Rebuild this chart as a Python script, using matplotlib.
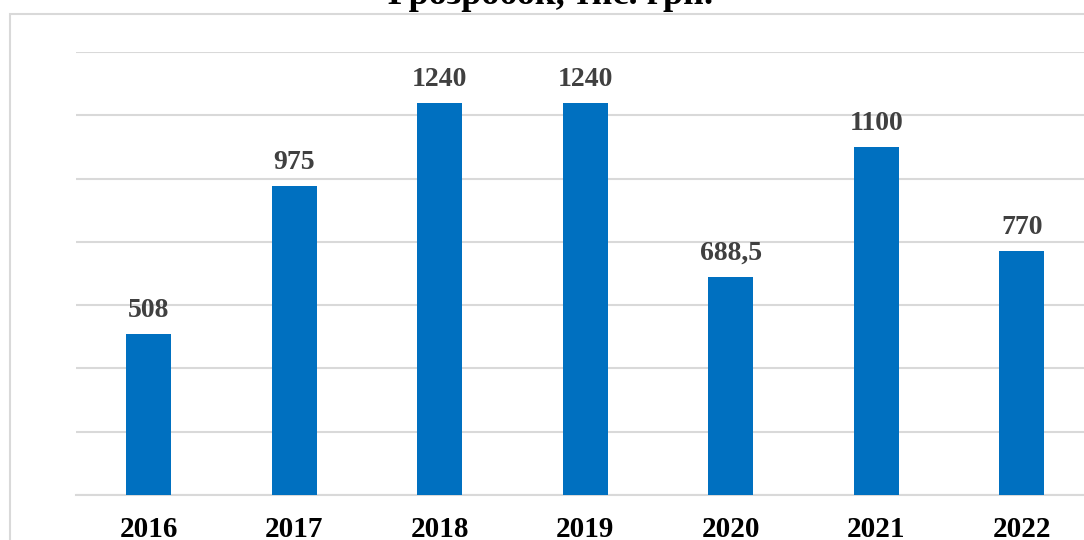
"""Bar chart: розробок, тис. грн., 2016-2022."""
import matplotlib
matplotlib.use("Agg")
import matplotlib.pyplot as plt
from matplotlib.patches import Rectangle

# Data
years = ["2016", "2017", "2018", "2019", "2020", "2021", "2022"]
values = [508, 975, 1240, 1240, 688.5, 1100, 770]
value_labels = ["508", "975", "1240", "1240", "688,5", "1100", "770"]
title = "Грозробок, тис. грн."

BAR_BLUE = "#0070C0"
GRID_GRAY = "#D9D9D9"
LABEL_GRAY = "#404040"

plt.rcParams["font.family"] = ["Liberation Serif", "DejaVu Serif"]

W, H = 1084, 540
fig = plt.figure(figsize=(W / 100, H / 100), dpi=100)
fig.patch.set_facecolor("white")

# chart-area frame (partly cropped off right/bottom)
fig.patches.append(Rectangle((10 / W, -0.1), 1.2, 1 - 14 / H + 0.1,
                             transform=fig.transFigure, fill=False,
                             edgecolor=GRID_GRAY, linewidth=1.5, zorder=0))

# plot area extends past the right edge, as in the original crop
left, bottom = 76 / W, 45 / H
ax = fig.add_axes([left, bottom, (1094.5 - 76) / W, 443 / H])

x = range(len(years))
ax.bar(x, values, width=0.31, color=BAR_BLUE, zorder=3)

ax.set_xlim(-0.5, len(years) - 0.5)
ax.set_ylim(0, 1400)
ax.set_yticks(range(0, 1401, 200))
ax.yaxis.grid(True, color=GRID_GRAY, linewidth=1.5, zorder=0)
ax.set_axisbelow(True)

for side in ["left", "right", "top"]:
    ax.spines[side].set_visible(False)
ax.spines["bottom"].set_color(GRID_GRAY)
ax.spines["bottom"].set_linewidth(1.5)

ax.tick_params(axis="y", length=0, labelleft=False)
ax.tick_params(axis="x", length=0, pad=15)
ax.set_xticks(list(x))
ax.set_xticklabels(years, fontsize=21, fontweight="bold", color="black")

for xi, v, lab in zip(x, values, value_labels):
    ax.annotate(lab, (xi, v), xytext=(0, 8), textcoords="offset points",
                ha="center", va="bottom", fontsize=20, fontweight="bold",
                color=LABEL_GRAY)

# title line, mostly above the visible crop
fig.text(551 / W, 1 - 4 / H, title, ha="center", va="baseline",
         fontsize=26, fontweight="bold", color="black")

fig.savefig("out.png", dpi=100, facecolor="white")
